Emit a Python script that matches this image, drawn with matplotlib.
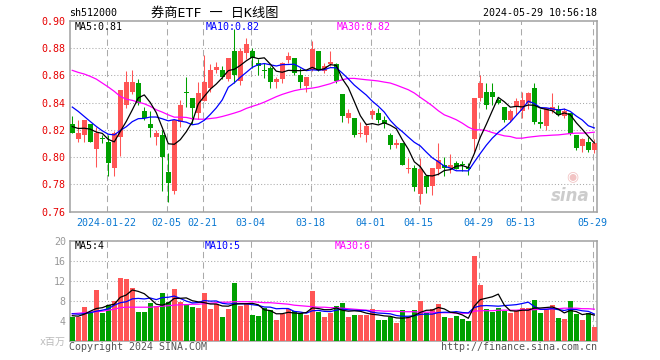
import numpy as np
import matplotlib.pyplot as plt

plt.rcParams['font.family'] = ['DejaVu Sans Mono', 'Noto Sans CJK SC']

# daily candles, 2024-01-12 .. 2024-05-29 (88 trading days)
open_ = np.array([
    .824, .813, .816, .824, .806, .814, .811, .792, .815, .838,
    .848, .854, .834, .824, .815, .816, .789, .775, .826, .848,
    .843, .832, .841, .851, .864, .864, .857, .878, .856, .876,
    .878, .869, .864, .865, .855, .857, .871, .873, .860, .852,
    .864, .878, .863, .868, .868, .846, .829, .829, .817, .816,
    .831, .832, .827, .816, .809, .810, .791, .792, .773, .786,
    .779, .791, .794, .792, .796, .795, .793, .813, .843, .848,
    .848, .842, .837, .827, .837, .834, .840, .851, .826, .823,
    .834, .835, .830, .832, .816, .808, .811, .805])
high = np.array([
    .830, .827, .827, .824, .822, .816, .816, .819, .849, .863,
    .864, .857, .837, .834, .820, .820, .803, .827, .842, .859,
    .843, .855, .875, .868, .870, .867, .873, .894, .880, .887,
    .880, .872, .869, .867, .859, .870, .877, .873, .865, .859,
    .885, .878, .869, .878, .869, .846, .835, .829, .826, .825,
    .835, .836, .830, .818, .813, .810, .799, .794, .799, .786,
    .792, .810, .800, .802, .797, .797, .796, .843, .860, .854,
    .854, .843, .837, .835, .843, .848, .848, .854, .835, .836,
    .847, .838, .836, .832, .816, .814, .815, .813])
low = np.array([
    .818, .811, .811, .811, .793, .810, .786, .786, .801, .836,
    .846, .838, .827, .815, .809, .775, .767, .773, .822, .837,
    .824, .828, .841, .848, .862, .857, .856, .854, .853, .872,
    .865, .860, .858, .851, .851, .854, .869, .860, .851, .848,
    .863, .863, .862, .867, .854, .826, .825, .815, .815, .811,
    .828, .825, .821, .806, .807, .794, .788, .775, .766, .774,
    .772, .787, .786, .788, .791, .790, .787, .803, .841, .835,
    .838, .839, .826, .826, .831, .829, .835, .824, .821, .820,
    .832, .830, .829, .816, .805, .804, .804, .803])
close = np.array([
    .818, .818, .827, .811, .818, .813, .796, .818, .849, .855,
    .855, .840, .829, .821, .818, .800, .781, .827, .838, .847,
    .836, .847, .855, .864, .866, .859, .873, .860, .878, .883,
    .873, .867, .863, .855, .857, .869, .874, .862, .855, .859,
    .879, .864, .867, .870, .856, .830, .832, .816, .818, .823,
    .834, .827, .824, .809, .810, .794, .792, .778, .791, .778,
    .792, .798, .792, .794, .791, .794, .791, .843, .854, .838,
    .844, .840, .827, .834, .841, .842, .847, .826, .824, .836,
    .837, .831, .834, .817, .807, .813, .805, .810])

ma5 = [
    .8224, .8210, .8212, .8205, .8184, .8174, .8130, .8112, .8188, .8262,
    .8346, .8434, .8456, .8400, .8326, .8216, .8098, .8094, .8128, .8186,
    .8258, .8390, .8446, .8498, .8536, .8582, .8634, .8644, .8672, .8706,
    .8734, .8722, .8728, .8682, .8630, .8622, .8636, .8634, .8634, .8638,
    .8658, .8638, .8648, .8678, .8672, .8574, .8510, .8408, .8304, .8238,
    .8246, .8236, .8252, .8234, .8208, .8128, .8058, .7966, .7930, .7866,
    .7862, .7874, .7902, .7908, .7934, .7938, .7924, .8026, .8146, .8240,
    .8340, .8438, .8406, .8366, .8372, .8368, .8382, .8380, .8360, .8350,
    .8340, .8308, .8324, .8310, .8252, .8204, .8152, .8104]
ma10 = [
    .8367, .8335, .8298, .8261, .8225, .8193, .8168, .8163, .8195, .8223,
    .8260, .8282, .8284, .8294, .8294, .8281, .8266, .8275, .8264, .8256,
    .8237, .8244, .8270, .8313, .8361, .8420, .8512, .8545, .8585, .8621,
    .8658, .8678, .8686, .8677, .8668, .8678, .8679, .8681, .8658, .8634,
    .8640, .8637, .8641, .8656, .8655, .8616, .8574, .8528, .8491, .8455,
    .8410, .8373, .8330, .8269, .8223, .8187, .8147, .8109, .8082, .8037,
    .7995, .7966, .7934, .7919, .7900, .7900, .7899, .7964, .8027, .8087,
    .8139, .8181, .8216, .8256, .8306, .8354, .8410, .8393, .8363, .8361,
    .8354, .8345, .8352, .8335, .8301, .8272, .8230, .8214]
ma30 = [
    .8636, .8621, .8609, .8592, .8572, .8543, .8514, .8482, .8445, .8425,
    .8416, .8403, .8391, .8372, .8347, .8330, .8310, .8293, .8293, .8291,
    .8281, .8278, .8278, .8283, .8288, .8298, .8310, .8323, .8337, .8357,
    .8372, .8386, .8403, .8423, .8443, .8460, .8474, .8487, .8496, .8501,
    .8506, .8514, .8526, .8538, .8555, .8567, .8577, .8577, .8572, .8567,
    .8563, .8558, .8550, .8543, .8528, .8511, .8494, .8470, .8438, .8408,
    .8376, .8340, .8310, .8293, .8274, .8249, .8220, .8200, .8200, .8195,
    .8180, .8168, .8156, .8151, .8139, .8139, .8146, .8151, .8156, .8158,
    .8161, .8163, .8168, .8173, .8176, .8176, .8178, .8183]

# volume, millions
volume = np.array([
    4.8, 4.8, 6.8, 5.7, 10.1, 5.6, 7.1, 8.0, 12.6, 12.4,
    10.6, 5.7, 5.7, 7.6, 6.9, 9.6, 7.8, 10.4, 7.7, 7.3,
    6.8, 6.6, 9.6, 6.4, 7.3, 4.8, 6.4, 11.6, 6.9, 7.3,
    5.2, 4.9, 6.6, 6.1, 4.1, 5.3, 6.3, 5.9, 5.6, 5.1,
    9.9, 5.7, 4.7, 5.6, 6.9, 7.6, 4.7, 5.1, 5.1, 5.1,
    6.4, 4.1, 4.1, 4.7, 3.5, 6.1, 4.7, 6.1, 7.9, 5.6,
    6.3, 7.3, 4.7, 4.6, 4.9, 4.3, 3.9, 16.9, 11.1, 6.3,
    5.7, 6.6, 5.9, 5.5, 5.9, 6.6, 6.6, 8.1, 5.5, 6.4,
    7.1, 4.5, 4.3, 7.9, 5.3, 4.1, 5.5, 2.8])
vma5 = [
    5.0, 4.9, 5.3, 5.9, 6.44, 6.60, 7.06, 7.30, 8.68, 9.14,
    10.14, 9.86, 9.40, 8.40, 7.30, 7.10, 7.52, 8.46, 8.48, 8.56,
    8.00, 7.76, 7.60, 7.34, 7.34, 6.94, 6.90, 7.30, 7.40, 7.40,
    7.48, 7.18, 6.18, 6.02, 5.38, 5.40, 5.68, 5.54, 5.44, 5.64,
    6.56, 6.44, 6.20, 6.20, 6.56, 6.10, 5.90, 5.98, 5.88, 5.52,
    5.28, 5.16, 4.96, 4.88, 4.56, 4.50, 4.62, 5.02, 5.66, 6.08,
    6.12, 6.64, 6.36, 5.70, 5.56, 5.16, 4.48, 6.92, 8.22, 8.50,
    8.78, 9.32, 7.12, 6.00, 5.92, 6.10, 6.10, 6.54, 6.54, 6.64,
    6.74, 6.32, 5.56, 6.04, 5.82, 5.22, 5.42, 5.12]
vma10 = [
    5.4, 5.3, 5.4, 5.6, 5.9, 6.1, 6.4, 7.1, 7.6, 7.79,
    8.37, 8.46, 8.35, 8.54, 8.22, 8.62, 8.69, 8.93, 8.44, 7.93,
    7.55, 7.64, 8.03, 7.91, 7.95, 7.47, 7.33, 7.45, 7.37, 7.37,
    7.21, 7.04, 6.74, 6.71, 6.39, 6.44, 6.43, 5.86, 5.73, 5.51,
    5.98, 6.06, 5.87, 5.82, 6.10, 6.33, 6.17, 6.09, 6.04, 6.04,
    5.69, 5.53, 5.47, 5.38, 5.04, 4.89, 4.89, 4.99, 5.27, 5.32,
    5.31, 5.63, 5.69, 5.68, 5.82, 5.64, 5.56, 6.64, 6.96, 7.03,
    6.97, 6.90, 7.02, 7.11, 7.21, 7.44, 7.71, 6.83, 6.27, 6.28,
    6.42, 6.21, 6.05, 6.29, 6.23, 5.98, 5.87, 5.34]
vma30 = [
    5.4, 5.5, 5.6, 5.7, 5.8, 5.9, 6.1, 6.3, 6.6, 6.7,
    6.7, 6.7, 6.7, 6.7, 6.8, 6.9, 7.0, 7.1, 7.2, 7.2,
    7.3, 7.3, 7.4, 7.5, 7.6, 7.7, 7.7, 7.8, 7.8, 7.8,
    7.8, 7.7, 7.6, 7.6, 7.5, 7.4, 7.3, 7.1, 7.0, 6.9,
    6.8, 6.7, 6.7, 6.6, 6.6, 6.5, 6.4, 6.3, 6.2, 6.1,
    6.0, 6.0, 5.9, 5.9, 5.9, 5.8, 5.8, 5.8, 5.7, 5.7,
    5.7, 5.6, 5.6, 5.6, 5.5, 5.5, 5.5, 5.9, 6.0, 6.0,
    6.0, 6.1, 6.1, 6.1, 6.1, 6.2, 6.2, 6.2, 6.3, 6.3,
    6.4, 6.4, 6.5, 6.5, 6.5, 6.4, 6.4, 6.3]

tick_pos = [6, 16, 22, 30, 40, 50, 58, 68, 75, 87]
tick_lab = ['2024-01-22', '02-05', '02-21', '03-04', '03-18',
            '04-01', '04-15', '04-29', '05-13', '05-29']
price_ticks = [0.76, 0.78, 0.80, 0.82, 0.84, 0.86, 0.88, 0.90]
vol_ticks = [0, 4, 8, 12, 16, 20]
vol_tick_lab = ['x百万', '4', '8', '12', '16', '20']

RED = '#ff5555'
GREEN = '#00a000'
GRID = '#aaaaaa'
FRAME = '#a0a0a0'

W, H = 660, 360


def box(l, t, r, b):
    return [l / W, 1 - b / H, (r - l) / W, (b - t) / H]


def ftext(x, y, s, **kw):
    fig.text(x / W, 1 - y / H, s, va='center', **kw)


fig = plt.figure(figsize=(W / 100, H / 100), dpi=100)
ax = fig.add_axes(box(70, 20.7, 597, 211.7))
axv = fig.add_axes(box(70, 240.7, 597, 340.7))

x = np.arange(len(close))
col = np.where(close >= open_, RED, GREEN)
grid_x = np.array(tick_pos) - 0.27

for a in (ax, axv):
    a.set_xlim(-0.38, 87.45)
    for s in a.spines.values():
        s.set_color(FRAME)
        s.set_linewidth(1.1)
    a.tick_params(length=0, labelsize=7.2)
    a.vlines(grid_x, 0, 1, transform=a.get_xaxis_transform(), colors=GRID,
             lw=0.75, linestyles=(0, (6, 4)), zorder=0)

# sina watermark, behind the candles
ftext(572, 176, '◉', fontsize=10, color='#f2c4c4', ha='center',
      family='DejaVu Sans')
ftext(570, 196, 'sina', fontsize=12, color='#cccccc', ha='center',
      fontweight='bold', fontstyle='italic', family='DejaVu Sans')

# price panel
ax.set_ylim(0.76, 0.90)
ax.patch.set_alpha(0)
ax.hlines(price_ticks[1:-1], 0, 1, transform=ax.get_yaxis_transform(),
          colors=GRID, lw=0.75, linestyles=(0, (1, 2)), zorder=0)
ax.vlines(x, low, high, colors=col, lw=0.75, zorder=2)
body = np.maximum(np.abs(close - open_), 0.0006)
ax.bar(x, body, width=0.82, bottom=np.minimum(open_, close), color=col,
       lw=0, zorder=3)
ax.plot(x, ma30, color='#ff00ff', lw=0.9, zorder=4)
ax.plot(x, ma10, color='#0000ff', lw=0.9, zorder=4)
ax.plot(x, ma5, color='black', lw=0.9, zorder=4)
ax.set_yticks(price_ticks, ['%.2f' % t for t in price_ticks])
ax.set_xticks(grid_x, tick_lab)
ax.tick_params(axis='y', labelcolor='#e60000', pad=3)
ax.tick_params(axis='x', labelcolor='#0a78d2', pad=4.5)

# volume panel
axv.set_ylim(0, 20)
axv.hlines(vol_ticks[1:-1], 0, 1, transform=axv.get_yaxis_transform(),
           colors=GRID, lw=0.75, linestyles=(0, (1, 2)), zorder=0)
axv.bar(x, volume, width=0.82, color=col, lw=0, zorder=3)
axv.plot(x, vma30, color='#ff00ff', lw=0.9, zorder=4)
axv.plot(x, vma10, color='#0000ff', lw=0.9, zorder=4)
axv.plot(x, vma5, color='black', lw=0.9, zorder=4)
axv.set_xticks([])
axv.set_yticks(vol_ticks, vol_tick_lab)
axv.tick_params(axis='y', labelcolor='#999999', pad=3)
axv.get_yticklabels()[0].set_color('#bbbbbb')

# header and legends
ftext(69, 13, 'sh512000', fontsize=7.2, color='black')
ftext(151, 13, '券商ETF 一 日K线图', fontsize=9.5, color='black')
ftext(597, 13, '2024-05-29 10:56:18', fontsize=7.2, color='black', ha='right')
ftext(75, 27, 'MA5:0.81', fontsize=7.2, color='black')
ftext(206, 27, 'MA10:0.82', fontsize=7.2, color='#0000ff')
ftext(337, 27, 'MA30:0.82', fontsize=7.2, color='#ff00ff')
ftext(75, 246, 'MA5:4', fontsize=7.2, color='black')
ftext(205, 246, 'MA10:5', fontsize=7.2, color='#0000ff')
ftext(335, 246, 'MA30:6', fontsize=7.2, color='#ff00ff')
ftext(69, 347, 'Copyright 2024 SINA.COM', fontsize=7.2, color='#555555')
ftext(597, 347, 'http://finance.sina.com.cn', fontsize=7.2, color='#555555',
      ha='right')

fig.savefig('out.png', dpi=100)
